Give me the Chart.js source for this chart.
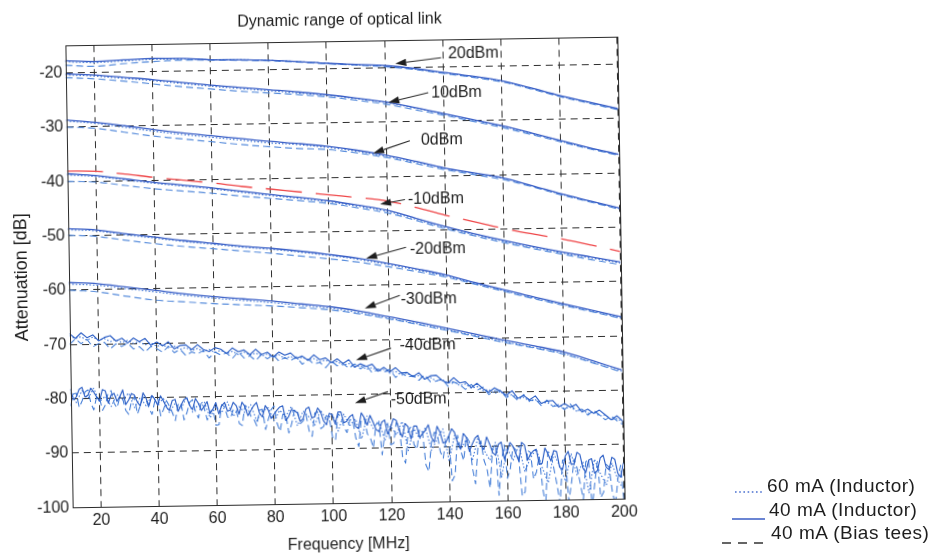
<!DOCTYPE html>
<html><head><meta charset="utf-8">
<script src="https://cdn.jsdelivr.net/npm/chart.js@4.4.1/dist/chart.umd.min.js"></script>
<style>
html,body{margin:0;padding:0;background:#fff;}
#wrap{position:relative;width:932px;height:559px;overflow:hidden;background:#fff;}
#c{position:absolute;left:0;top:0;transform:rotate(-0.9deg);transform-origin:344.5px 272.25px;}
.lg{position:absolute;font:19px "Liberation Sans",Arial,sans-serif;letter-spacing:0.5px;color:#1e1e1e;line-height:20px;white-space:nowrap;}
</style></head><body>
<div id="wrap">
<canvas id="c" width="932" height="559"></canvas>
<svg style="position:absolute;left:0;top:0" width="932" height="559">
 <line x1="735" y1="492" x2="763" y2="492" stroke="#4a70d0" stroke-width="1.6" stroke-dasharray="1.6,2.6"/>
 <line x1="732" y1="519" x2="765" y2="519" stroke="#3a5cc4" stroke-width="1.5"/>
 <line x1="722" y1="543" x2="765" y2="543" stroke="#333" stroke-width="1.5" stroke-dasharray="9,7"/>
</svg>
<div class="lg" style="left:767px;top:476px">60 mA (Inductor)</div>
<div class="lg" style="left:769px;top:500px">40 mA (Inductor)</div>
<div class="lg" style="left:771px;top:523px">40 mA (Bias tees)</div>
</div>
<script>
const titleText = 'Dynamic range of optical link';
const xTitle = 'Frequency [MHz]';
const yTitle = 'Attenuation [dB]';
const xTicks = [20,40,60,80,100,120,140,160,180,200];
const yTicks = [-100,-90,-80,-70,-60,-50,-40,-30,-20];
const freqCoarse = [10,20,30,40,50,60,70,80,90,100,110,120,130,140,150,160,170,180,190,200];
const freqFine = [10,12,14,16,18,20,22,24,26,28,30,32,34,36,38,40,42,44,46,48,50,52,54,56,58,60,62,64,66,68,70,72,74,76,78,80,82,84,86,88,90,92,94,96,98,100,102,104,106,108,110,112,114,116,118,120,122,124,126,128,130,132,134,136,138,140,142,144,146,148,150,152,154,156,158,160,162,164,166,168,170,172,174,176,178,180,182,184,186,188,190,192,194,196,198,200];
const freqDense = [10,11,12,13,14,15,16,17,18,19,20,21,22,23,24,25,26,27,28,29,30,31,32,33,34,35,36,37,38,39,40,41,42,43,44,45,46,47,48,49,50,51,52,53,54,55,56,57,58,59,60,61,62,63,64,65,66,67,68,69,70,71,72,73,74,75,76,77,78,79,80,81,82,83,84,85,86,87,88,89,90,91,92,93,94,95,96,97,98,99,100,101,102,103,104,105,106,107,108,109,110,111,112,113,114,115,116,117,118,119,120,121,122,123,124,125,126,127,128,129,130,131,132,133,134,135,136,137,138,139,140,141,142,143,144,145,146,147,148,149,150,151,152,153,154,155,156,157,158,159,160,161,162,163,164,165,166,167,168,169,170,171,172,173,174,175,176,177,178,179,180,181,182,183,184,185,186,187,188,189,190,191,192,193,194,195,196,197,198,199,200];
const powerLabels = ['20dBm','10dBm','0dBm','-10dBm','-20dBm','-30dBm','-40dBm','-50dBm'];

// 20 dBm
const p20Solid  = [-17.8,-18.0,-17.8,-17.6,-17.7,-18.0,-18.1,-18.3,-18.6,-19.0,-19.3,-19.6,-20.2,-21.0,-21.8,-22.7,-24.1,-25.6,-26.9,-28.2];
const p20Dashed = [-18.6,-18.9,-18.5,-18.2,-18.0,-18.1,-18.2,-18.4,-18.7,-19.1,-19.4,-19.8,-20.4,-21.2,-22.0,-22.9,-24.3,-25.8,-27.1,-28.4];
const p20Dotted = [-18.0,-18.2,-18.0,-17.8,-17.8,-18.0,-18.1,-18.3,-18.6,-19.0,-19.4,-19.7,-20.3,-21.1,-21.9,-22.8,-24.2,-25.7,-27.0,-28.3];
// 10 dBm
const p10Solid  = [-20.2,-20.5,-21.0,-21.5,-22.1,-22.7,-23.2,-23.7,-24.2,-24.8,-25.5,-26.3,-27.4,-28.6,-29.8,-31.0,-32.4,-33.9,-35.3,-36.6];
const p10Dashed = [-20.9,-21.2,-21.7,-22.3,-22.9,-23.4,-23.9,-24.3,-24.7,-25.2,-25.9,-26.7,-27.8,-28.9,-30.1,-31.3,-32.7,-34.1,-35.5,-36.8];
const p10Dotted = [-20.4,-20.7,-21.2,-21.7,-22.3,-22.9,-23.4,-23.9,-24.4,-24.9,-25.6,-26.4,-27.5,-28.7,-29.9,-31.1,-32.5,-34.0,-35.4,-36.7];
// 0 dBm
const p0Solid  = [-28.7,-29.2,-29.9,-30.7,-31.4,-32.0,-32.6,-33.2,-33.7,-34.3,-35.1,-36.1,-37.3,-38.6,-39.6,-40.6,-42.1,-43.7,-45.1,-46.5];
const p0Dashed = [-30.0,-30.3,-31.1,-31.9,-32.5,-33.1,-33.7,-34.2,-34.6,-34.9,-35.6,-36.5,-37.7,-38.9,-39.9,-40.9,-42.3,-43.9,-45.3,-46.7];
const p0Dotted = [-28.9,-29.4,-30.2,-31.0,-31.7,-32.3,-32.9,-33.5,-33.9,-34.5,-35.3,-36.3,-37.5,-38.7,-39.7,-40.7,-42.2,-43.8,-45.2,-46.6];
// -10 dBm
const m10Solid  = [-38.6,-39.0,-39.7,-40.4,-41.0,-41.6,-42.3,-43.0,-43.6,-44.3,-45.2,-46.2,-47.8,-49.4,-50.8,-52.1,-53.3,-54.4,-55.4,-56.4];
const m10Dashed = [-40.0,-40.2,-40.9,-41.6,-42.1,-42.6,-43.2,-43.7,-44.2,-44.8,-45.7,-46.7,-48.2,-49.8,-51.2,-52.5,-53.7,-54.8,-55.9,-56.9];
const m10Dotted = [-38.8,-39.2,-39.9,-40.6,-41.2,-41.8,-42.5,-43.2,-43.8,-44.5,-45.4,-46.4,-48.0,-49.6,-51.0,-52.3,-53.5,-54.6,-55.6,-56.6];
const m10Red    = [-38.1,-38.2,-38.8,-39.5,-40.1,-40.7,-41.4,-42.0,-42.6,-43.2,-43.8,-44.5,-45.8,-47.3,-48.6,-49.9,-51.0,-52.0,-53.2,-54.5];
// -20 dBm
const m20Solid  = [-48.7,-49.0,-49.8,-50.5,-51.2,-51.8,-52.4,-52.9,-53.5,-54.2,-55.0,-56.0,-57.1,-58.3,-59.8,-61.2,-62.6,-63.9,-65.2,-66.5];
const m20Dashed = [-49.9,-50.2,-51.0,-51.7,-52.3,-52.8,-53.3,-53.8,-54.4,-55.0,-55.7,-56.6,-57.6,-58.7,-60.1,-61.5,-62.9,-64.2,-65.5,-66.8];
const m20Dotted = [-48.9,-49.2,-50.0,-50.7,-51.4,-52.0,-52.6,-53.1,-53.7,-54.4,-55.2,-56.2,-57.3,-58.5,-60.0,-61.4,-62.8,-64.1,-65.4,-66.7];
// -30 dBm
const m30Solid  = [-58.6,-58.9,-59.6,-60.3,-61.0,-61.6,-62.1,-62.6,-63.2,-63.8,-64.7,-65.8,-66.9,-68.1,-69.3,-70.5,-71.6,-72.8,-74.5,-76.3];
const m30Dashed = [-60.0,-60.4,-61.3,-62.1,-62.5,-62.9,-63.2,-63.5,-63.9,-64.4,-65.2,-66.2,-67.3,-68.5,-69.7,-70.9,-72.0,-73.2,-74.9,-76.7];
const m30Dotted = [-58.9,-59.2,-59.9,-60.6,-61.3,-61.9,-62.4,-62.9,-63.5,-64.1,-65.0,-66.1,-67.2,-68.4,-69.6,-70.8,-71.9,-73.1,-74.8,-76.5];
// -40 dBm (2 MHz grid)
const m40Solid = [-68.0,-68.9,-67.9,-68.8,-68.3,-69.4,-68.8,-68.5,-69.5,-69.0,
-69.9,-69.0,-69.7,-69.1,-70.4,-69.8,-70.5,-69.8,-71.1,-70.5,
-70.4,-71.3,-70.4,-71.3,-71.7,-71.0,-71.3,-72.1,-71.1,-71.8,
-71.5,-72.4,-71.4,-72.4,-72.0,-72.9,-72.0,-72.6,-72.2,-73.2,
-72.8,-73.6,-72.6,-73.5,-73.2,-74.1,-73.4,-74.3,-73.6,-75.0,
-74.4,-74.9,-74.5,-75.8,-75.1,-76.0,-75.2,-76.2,-76.1,-76.9,
-76.2,-77.4,-76.8,-76.7,-77.7,-78.2,-77.2,-78.2,-78.0,-79.1,
-78.3,-79.3,-80.0,-79.2,-79.8,-80.6,-79.8,-81.2,-80.7,-81.5,
-80.8,-82.2,-81.8,-81.7,-82.9,-82.3,-83.0,-82.5,-83.9,-83.4,
-84.2,-83.6,-84.5,-85.4,-84.7,-85.7];
const m40Dashed = [-70.0,-69.0,-69.9,-69.1,-70.5,-69.9,-69.7,-70.9,-70.0,-70.5,
-69.9,-71.0,-70.6,-71.6,-70.6,-71.0,-71.7,-70.6,-71.8,-71.2,
-72.4,-71.7,-72.1,-71.5,-72.9,-71.8,-72.4,-72.0,-73.0,-71.8,
-73.0,-72.6,-73.5,-72.4,-73.2,-72.5,-73.7,-73.0,-73.6,-72.9,
-74.3,-73.4,-74.3,-74.0,-75.0,-73.8,-74.7,-74.3,-75.2,-74.4,
-75.3,-74.6,-76.1,-75.4,-76.0,-75.5,-77.0,-76.1,-77.0,-76.7,
-77.6,-76.6,-77.9,-77.8,-77.4,-78.8,-78.0,-78.5,-79.4,-78.5,
-79.6,-79.0,-80.4,-79.7,-79.7,-81.0,-80.6,-81.6,-80.5,-81.7,
-81.4,-82.6,-81.6,-82.8,-82.6,-83.4,-82.4,-83.7,-83.4,-84.5,
-83.6,-84.5,-85.4,-84.7,-85.6,-86.3];
const m40Dotted = [-68.4,-68.9,-68.6,-69.3,-68.7,-69.3,-69.0,-69.6,-69.2,-69.8,
-69.4,-70.0,-69.7,-70.3,-69.9,-70.6,-70.3,-70.9,-70.6,-71.2,
-70.9,-71.5,-71.1,-71.7,-71.3,-71.9,-71.5,-72.1,-71.7,-72.3,
-71.9,-72.5,-72.1,-72.7,-72.3,-72.9,-72.5,-73.2,-72.8,-73.4,
-73.0,-73.6,-73.3,-73.9,-73.6,-74.2,-73.9,-74.6,-74.3,-75.0,
-74.7,-75.4,-75.1,-75.8,-75.5,-76.2,-75.9,-76.6,-76.3,-77.0,
-76.7,-77.4,-77.1,-77.8,-77.5,-78.2,-77.9,-78.7,-78.4,-79.2,
-78.9,-79.7,-79.5,-80.2,-79.9,-80.8,-80.5,-81.3,-81.0,-81.8,
-81.5,-82.2,-82.0,-82.7,-82.5,-83.2,-82.9,-83.7,-83.4,-84.2,
-83.9,-84.7,-84.5,-85.4,-85.2,-85.9];
// -50 dBm (1 MHz grid for solid and dashed, 2 MHz for dotted)
const m50Solid = [-78.2,-80.1,-79.7,-78.3,-77.9,-79.7,-79.4,-78.1,-78.8,-79.7,
-80.5,-78.4,-78.6,-80.9,-79.4,-79.1,-80.6,-79.7,-78.5,-81.2,
-80.4,-79.2,-79.5,-80.8,-81.5,-79.1,-80.1,-81.5,-79.6,-80.3,
-81.4,-79.7,-80.7,-81.8,-82.4,-80.6,-80.4,-82.6,-81.5,-80.5,
-80.1,-81.6,-82.3,-80.3,-81.2,-82.5,-81.8,-80.9,-83.1,-82.3,
-81.1,-83.2,-81.7,-81.1,-82.7,-82.5,-81.1,-81.7,-83.3,-81.1,
-81.9,-83.6,-82.7,-81.8,-81.2,-83.2,-83.9,-81.8,-82.6,-84.2,
-83.4,-82.7,-82.1,-81.9,-84.6,-83.9,-82.6,-82.8,-83.2,-84.8,
-84.3,-82.5,-82.2,-84.2,-84.0,-82.4,-83.1,-84.8,-85.5,-83.4,
-83.7,-85.4,-83.2,-83.2,-85.2,-84.9,-84.1,-83.7,-85.9,-86.3,
-83.4,-84.3,-85.7,-83.9,-85.1,-86.5,-86.9,-85.2,-84.8,-87.4,
-86.2,-84.6,-84.9,-86.7,-88.0,-85.5,-86.1,-88.4,-86.0,-86.0,
-88.1,-87.4,-86.8,-85.8,-88.1,-89.0,-86.1,-87.2,-89.2,-89.0,
-87.9,-86.6,-87.3,-89.2,-90.4,-87.5,-88.2,-90.8,-89.5,-88.4,
-87.9,-89.8,-90.5,-88.2,-89.5,-91.1,-91.6,-89.6,-89.2,-92.3,
-91.0,-89.3,-90.0,-91.4,-92.8,-89.3,-89.8,-92.6,-91.5,-90.9,
-90.6,-93.4,-93.2,-90.4,-91.5,-92.8,-90.9,-91.1,-94.0,-94.4,
-91.9,-91.1,-93.5,-93.4,-91.3,-91.7,-94.2,-95.0,-92.8,-92.5,
-95.2,-94.7,-92.4,-91.9,-94.1,-94.6,-92.3,-92.7,-95.3,-96.0,
-93.3];
const m50Dashed = [-81.3,-79.1,-79.0,-81.6,-80.4,-78.8,-78.4,-80.8,-82.1,-79.7,
-79.9,-82.2,-81.2,-79.0,-78.6,-80.9,-81.8,-79.8,-80.2,-82.3,
-83.0,-80.6,-79.8,-83.0,-81.4,-79.9,-80.4,-81.9,-83.1,-80.7,
-80.1,-83.4,-82.2,-80.6,-81.6,-82.8,-84.3,-81.4,-81.0,-84.2,
-82.9,-81.0,-80.5,-82.8,-83.9,-81.0,-82.1,-84.3,-82.8,-82.3,
-85.3,-85.2,-81.5,-81.9,-83.8,-84.0,-82.4,-82.4,-85.0,-85.4,
-81.7,-82.1,-83.7,-84.2,-85.5,-82.6,-82.5,-86.2,-84.3,-82.6,
-81.9,-85.1,-86.6,-83.5,-83.4,-86.9,-85.2,-82.8,-82.7,-85.2,
-84.7,-83.6,-86.6,-87.6,-83.3,-83.1,-86.2,-85.8,-83.8,-84.3,
-87.8,-88.4,-83.5,-84.1,-86.0,-87.0,-84.7,-84.6,-88.0,-89.6,
-84.5,-84.5,-87.3,-88.0,-89.9,-85.6,-85.3,-91.2,-87.1,-85.4,
-89.4,-89.1,-85.3,-86.1,-91.6,-92.8,-87.0,-86.1,-89.4,-90.3,
-86.5,-87.2,-93.2,-94.4,-89.1,-87.2,-87.4,-90.8,-92.0,-88.3,
-88.1,-96.2,-95.1,-87.8,-90.6,-92.5,-88.1,-89.0,-93.9,-96.8,
-89.8,-88.9,-92.5,-94.1,-97.6,-90.3,-89.6,-99.0,-92.7,-89.7,
-95.9,-94.2,-90.1,-90.7,-92.5,-99.2,-98.4,-90.8,-91.2,-96.1,
-94.8,-91.8,-97.5,-101.1,-91.1,-91.4,-94.2,-97.2,-100.6,-92.7,
-92.6,-100.3,-96.9,-92.5,-94.2,-97.0,-100.0,-93.1,-92.6,-101.6,
-97.0,-93.0,-99.7,-98.7,-93.6,-94.1,-98.6,-101.1,-96.2,-93.8,
-100.6];
const m50Dotted = [-78.9,-80.7,-78.5,-80.0,-78.1,-80.6,-79.6,-81.5,-79.3,-80.3,
-79.1,-81.8,-80.0,-81.5,-79.6,-81.2,-80.2,-82.8,-81.1,-82.2,
-80.0,-82.8,-81.4,-80.9,-83.9,-81.8,-82.9,-81.0,-83.7,-81.9,
-83.0,-81.6,-84.6,-82.8,-82.2,-84.6,-82.7,-83.9,-82.0,-85.6,
-82.9,-84.0,-85.5,-82.8,-84.6,-83.6,-86.7,-83.6,-85.7,-84.5,
-88.2,-84.0,-86.3,-84.9,-88.6,-85.9,-87.6,-85.1,-90.5,-86.5,
-88.3,-86.3,-90.5,-88.4,-86.6,-92.6,-87.8,-90.4,-88.7,-92.5,
-88.3,-90.6,-92.5,-89.2,-95.6,-90.3,-92.7,-89.8,-94.7,-92.2,
-90.6,-94.0,-96.8,-91.5,-93.7,-96.6,-91.5,-95.6,-93.0,-98.8,
-92.6,-95.3,-97.4,-93.4,-96.5,-98.3];

// annotation anchors (data coordinates): label start, arrow start, arrow tip
const annTextPos = [[141.8,-17.6],[135.8,-24.9],[132.0,-33.5],[127.2,-44.3],[127.6,-53.6],[124.2,-62.8],[123.6,-71.2],[120.2,-81.1]];
const annFrom    = [[139.4,-18.3],[134.8,-24.7],[128.2,-33.5],[126.2,-44.3],[126.3,-53.1],[123.9,-61.9],[120.6,-71.6],[119.3,-79.6]];
const annTip     = [[123.6,-19.3],[121.0,-26.4],[115.5,-35.7],[117.6,-45.1],[112.5,-55.0],[111.8,-64.2],[108.5,-73.7],[107.9,-81.6]];

const FONT = '"Liberation Sans", Arial, Helvetica, sans-serif';
const C_SOLID = '#3a5fc6', C_DASH = '#5a8edc', C_DOT = '#3f76d6', C_RED = '#ef4648';

function pts(fr, vals){ return vals.map((v,i)=>({x:fr[i], y:v})); }
function ds(fr, vals, kind){
  const noisy = fr!==freqCoarse;
  const base = {data: pts(fr, vals), pointRadius:0, fill:false, tension: noisy?0:0.35, borderJoinStyle:'round'};
  if(kind==='solid') return Object.assign(base,{borderColor:noisy?'#2c5fc6':C_SOLID,borderWidth:noisy?1.15:1.3,order:1});
  if(kind==='dashed') return Object.assign(base,{borderColor:noisy?'#3f7ad6':C_DASH,borderWidth:noisy?1.05:1.2,borderDash:[7,4],order:3});
  if(kind==='dotted') return Object.assign(base,{borderColor:C_DOT,borderWidth:1.1,borderDash:[1.5,2],order:2});
  return Object.assign(base,{borderColor:C_RED,borderWidth:1.3,borderDash:[36,14],order:0});
}
const datasets = [
  ds(freqCoarse,p20Dashed,'dashed'), ds(freqCoarse,p20Dotted,'dotted'), ds(freqCoarse,p20Solid,'solid'),
  ds(freqCoarse,p10Dashed,'dashed'), ds(freqCoarse,p10Dotted,'dotted'), ds(freqCoarse,p10Solid,'solid'),
  ds(freqCoarse,p0Dashed,'dashed'), ds(freqCoarse,p0Dotted,'dotted'), ds(freqCoarse,p0Solid,'solid'),
  ds(freqCoarse,m10Dashed,'dashed'), ds(freqCoarse,m10Dotted,'dotted'), ds(freqCoarse,m10Solid,'solid'),
  ds(freqCoarse,m10Red,'red'),
  ds(freqCoarse,m20Dashed,'dashed'), ds(freqCoarse,m20Dotted,'dotted'), ds(freqCoarse,m20Solid,'solid'),
  ds(freqCoarse,m30Dashed,'dashed'), ds(freqCoarse,m30Dotted,'dotted'), ds(freqCoarse,m30Solid,'solid'),
  ds(freqFine,m40Dashed,'dashed'), ds(freqFine,m40Dotted,'dotted'), ds(freqFine,m40Solid,'solid'),
  ds(freqDense,m50Dashed,'dashed'), ds(freqFine,m50Dotted,'dotted'), ds(freqDense,m50Solid,'solid')
];

const decor = {
  id:'decor',
  afterDatasetsDraw(chart){
    const {ctx, chartArea:a, scales:{x,y}} = chart;
    ctx.save();
    ctx.setLineDash([]); ctx.strokeStyle='#2a2a2a'; ctx.lineWidth=1;
    ctx.strokeRect(Math.round(a.left)+0.5, Math.round(a.top)+0.5, Math.round(a.right-a.left), Math.round(a.bottom-a.top));
    ctx.fillStyle='#1e1e1e'; ctx.strokeStyle='#2a2a2a'; ctx.lineWidth=1.1;
    ctx.font='16px '+FONT; ctx.textAlign='left'; ctx.textBaseline='middle';
    powerLabels.forEach((lab,i)=>{
      const x0=x.getPixelForValue(annFrom[i][0]), y0=y.getPixelForValue(annFrom[i][1]);
      const x1=x.getPixelForValue(annTip[i][0]), y1=y.getPixelForValue(annTip[i][1]);
      const ang=Math.atan2(y1-y0,x1-x0), L=11, W=3.6;
      const bx=x1-L*Math.cos(ang), by=y1-L*Math.sin(ang);
      ctx.beginPath(); ctx.moveTo(x0,y0); ctx.lineTo(bx,by); ctx.stroke();
      ctx.beginPath(); ctx.moveTo(x1,y1);
      ctx.lineTo(bx+W*Math.sin(ang), by-W*Math.cos(ang));
      ctx.lineTo(bx-W*Math.sin(ang), by+W*Math.cos(ang));
      ctx.closePath(); ctx.fill();
      ctx.fillText(lab, x.getPixelForValue(annTextPos[i][0]), y.getPixelForValue(annTextPos[i][1]));
    });
    ctx.font='16px '+FONT; ctx.textAlign='center'; ctx.textBaseline='middle'; ctx.fillStyle='#1e1e1e';
    ctx.fillText(titleText, a.left + (a.right-a.left)*0.498, 21);
    ctx.restore();
  }
};

new Chart(document.getElementById('c'), {
  type:'line',
  data:{datasets},
  plugins:[decor],
  options:{
    responsive:false, animation:false, devicePixelRatio:1,
    layout:{padding:{left:0, top:41.25, right:311.5, bottom:0}},
    plugins:{legend:{display:false}, tooltip:{enabled:false}, title:{display:false}},
    scales:{
      x:{type:'linear', min:10, max:200,
        afterBuildTicks:s=>{s.ticks=xTicks.map(v=>({value:v}));},
        afterFit:s=>{s.height=55.75;},
        grid:{color:'#2e2e2e', lineWidth:1, drawTicks:false},
        border:{display:false, dash:[7,5]},
        ticks:{font:{size:16, family:FONT}, color:'#1e1e1e', padding:4, maxRotation:0, autoSkip:false},
        title:{display:true, text:xTitle, font:{size:16, family:FONT}, color:'#1e1e1e', padding:{top:0,bottom:4.4}}
      },
      y:{type:'linear', min:-100, max:-15,
        afterBuildTicks:s=>{s.ticks=yTicks.map(v=>({value:v}));},
        afterFit:s=>{s.width=68.5;},
        grid:{color:'#2e2e2e', lineWidth:1, drawTicks:false},
        border:{display:false, dash:[7,5]},
        ticks:{font:{size:16, family:FONT}, color:'#1e1e1e', padding:3, autoSkip:false},
        title:{display:true, text:yTitle, font:{size:18, family:FONT}, color:'#1e1e1e', padding:{top:11,bottom:0}}
      }
    }
  }
});
</script>
</body></html>
